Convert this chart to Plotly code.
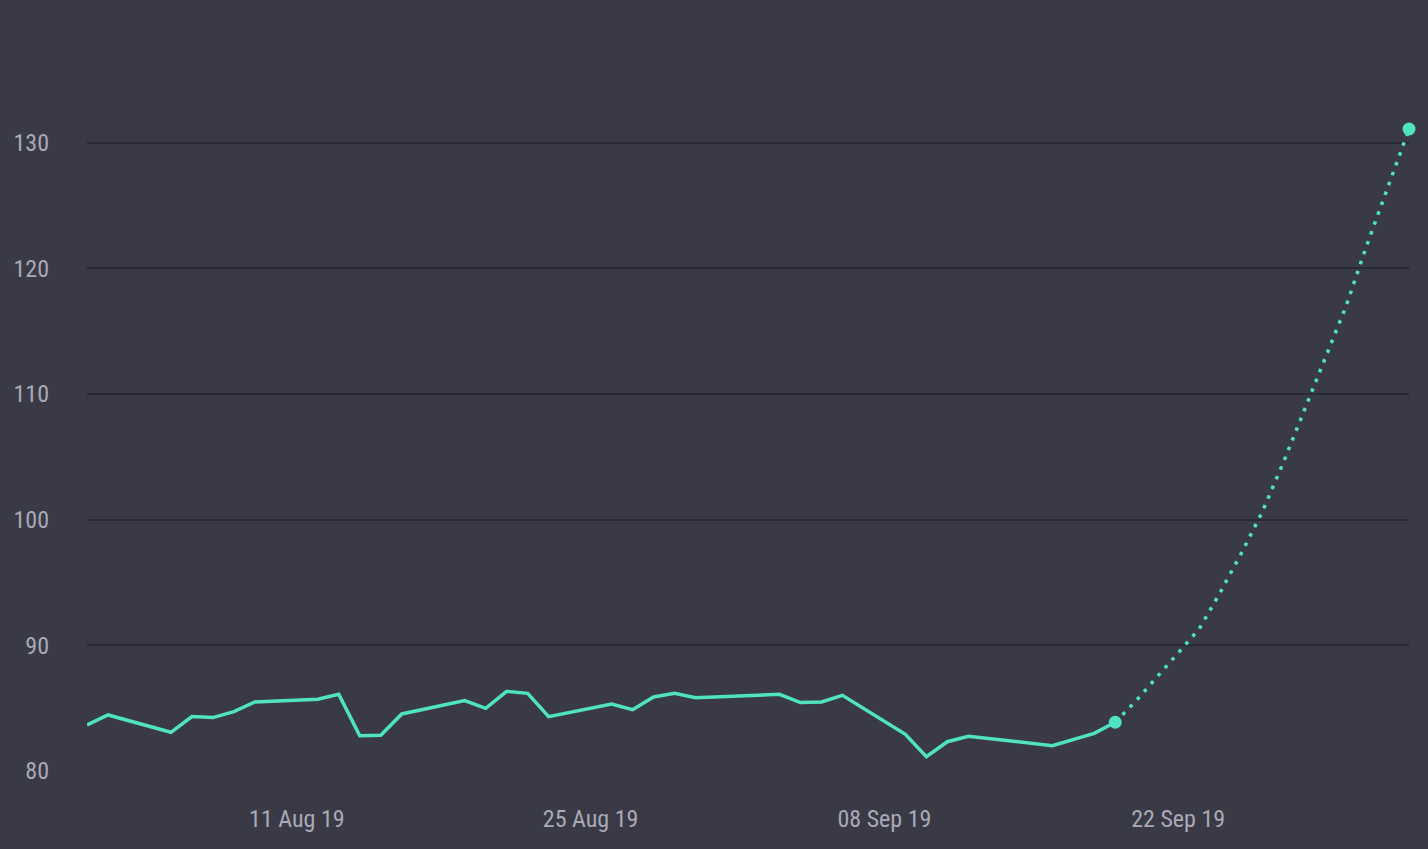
import plotly.graph_objects as go

# observed prices (business days)
hist_dates = ["2019-08-01", "2019-08-02", "2019-08-05", "2019-08-06", "2019-08-07",
              "2019-08-08", "2019-08-09", "2019-08-12", "2019-08-13", "2019-08-14",
              "2019-08-15", "2019-08-16", "2019-08-19", "2019-08-20", "2019-08-21",
              "2019-08-22", "2019-08-23", "2019-08-26", "2019-08-27", "2019-08-28",
              "2019-08-29", "2019-08-30", "2019-09-03", "2019-09-04", "2019-09-05",
              "2019-09-06", "2019-09-09", "2019-09-10", "2019-09-11", "2019-09-12",
              "2019-09-16", "2019-09-18", "2019-09-19"]
hist_values = [83.66, 84.46, 83.08, 84.33, 84.25,
               84.73, 85.49, 85.71, 86.10, 82.81,
               82.84, 84.54, 85.60, 84.99, 86.34,
               86.18, 84.33, 85.33, 84.88, 85.89,
               86.18, 85.84, 86.10, 85.45, 85.49,
               86.02, 82.92, 81.14, 82.33, 82.76,
               82.02, 83.00, 83.88]

# projection
fc_dates = ["2019-09-19", "2019-09-20", "2019-09-23", "2019-09-24", "2019-09-25",
            "2019-09-26", "2019-09-27", "2019-09-30", "2019-10-01", "2019-10-02",
            "2019-10-03"]
fc_values = [83.88, 85.6, 91.3, 94.2, 97.3,
             100.6, 104.5, 117.0, 121.9, 126.6,
             131.1]

tick_dates = ["2019-08-11", "2019-08-25", "2019-09-08", "2019-09-22"]
y_ticks = [80, 90, 100, 110, 120, 130]

green = "#50e3c2"
bg = "#3a3a46"
font_family = "Roboto Condensed, Liberation Sans Narrow, Roboto, sans-serif"

fig = go.Figure()
fig.add_trace(go.Scatter(x=fc_dates, y=fc_values, mode="lines",
                         line=dict(color=green, width=3.5, dash="3.5px,7px"),
                         hoverinfo="skip"))
fig.add_trace(go.Scatter(x=hist_dates, y=hist_values, mode="lines",
                         line=dict(color=green, width=3.5)))
fig.add_trace(go.Scatter(x=[fc_dates[0], fc_dates[-1]], y=[fc_values[0], fc_values[-1]],
                         mode="markers", marker=dict(color=green, size=13),
                         cliponaxis=False))

fig.update_layout(
    width=1428, height=849,
    paper_bgcolor=bg, plot_bgcolor=bg,
    showlegend=False,
    margin=dict(l=87, r=19, t=80, b=78),
    font=dict(family=font_family, size=24, color="#a9a9b8"),
)
fig.update_xaxes(range=["2019-08-01", "2019-10-03"], tickvals=tick_dates,
                 tickformat="%d %b %y", showgrid=False, zeroline=False,
                 showline=False, ticks="", ticklabelstandoff=31)
fig.update_yaxes(range=[80, 135], tickvals=y_ticks, showgrid=True,
                 gridcolor="#2a2a33", gridwidth=2, zeroline=False,
                 showline=False, ticks="", ticklabelstandoff=37)

fig.write_html("out.html", config={"displayModeBar": False},
               post_script="document.body.style.margin='0';")
